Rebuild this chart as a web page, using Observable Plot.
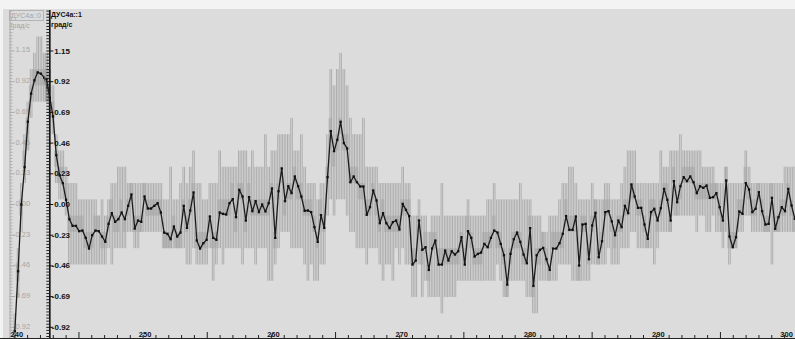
<!DOCTYPE html>
<html>
<head>
<meta charset="utf-8">
<script src="https://cdn.jsdelivr.net/npm/d3@7"></script>
<script src="https://cdn.jsdelivr.net/npm/@observablehq/plot@0.6"></script>
<style>
  html, body { margin: 0; padding: 0; background: #f3f3f3; }
  #wrap { position: relative; width: 795px; height: 339px; overflow: hidden; font-family: "Liberation Sans", Arial, sans-serif; }
  #panel { position: absolute; left: 3px; top: 9px; right: 0; bottom: 0; background: #dcdcdc; }
  #wrap svg { position: absolute; left: 0; top: 0; }
  .hdr { position: absolute; font-size: 7px; line-height: 8px; white-space: nowrap; }
  .ch0 { color: #a4a4a4; }
  .ch1 { color: #111; font-weight: bold; }
  .box0 { left: 9px; top: 10px; width: 35px; height: 11px; border: 1px solid #b4b4b4; padding-left: 1px; box-sizing: border-box; line-height: 9px; }
</style>
</head>
<body>
<div id="wrap">
  <div id="panel"></div>
  <div class="hdr ch0 box0">ДУС4а::0</div>
  <div class="hdr ch0" style="left:10px; top:22px;">град/с</div>
  <div class="hdr ch1" style="left:51px; top:11px;">ДУС4а::1</div>
  <div class="hdr ch1" style="left:51px; top:21px;">град/с</div>
</div>
<script>
// Quantised angular-rate sensor: value = LEVEL0 + LSB * count
const LSB = 0.122;
const LEVEL0 = 0.035;
const level = k => LEVEL0 + LSB * k;

// Sampling
const dt = 0.2547;          // s between averaged samples
const ch0Start = 240.0;
const ch1Start = 242.47;

// Channel ДУС4а::0 — mean, lower count of the inter-level box, whisker min / max counts
const ch0Mean   = [-0.95, -0.50, 0.00, 0.28, 0.62, 0.83, 0.93, 0.99, 0.98, 0.95, 0.87];
const ch0BoxLow = [-9, -5, -1, 2, 4, 6, 7, 7, 7, 7, 6];
const ch0Min    = [-9, -6, -2, 1, 3, 5, 6, 6, 6, 6, 6];
const ch0Max    = [-7, -3, 1, 4, 6, 8, 9, 10, 10, 9, 8];

// Channel ДУС4а::1
const ch1Mean = [
  0.94, 0.80, 0.66, 0.37, 0.22, 0.16, 0.035, -0.11, -0.16, -0.16,
  -0.20, -0.195, -0.25, -0.33, -0.23, -0.195, -0.20, -0.24, -0.28, -0.145,
  -0.065, -0.13, -0.11, -0.06, -0.11, -0.01, 0.075, -0.18, -0.12, -0.13,
  0.06, -0.03, -0.03, -0.01, 0.01, -0.06, -0.21, -0.22, -0.26, -0.165,
  -0.24, -0.21, -0.01, -0.175, -0.045, 0.09, -0.27, -0.33, -0.29, -0.265,
  -0.09, -0.25, -0.265, -0.06, -0.07, -0.075, 0.01, 0.04, -0.095,
  0.11, 0.06, -0.12, 0.055, -0.05, 0.025, -0.057, 0.0, -0.052, 0.01,
  0.12, -0.25, 0.10, 0.27, 0.025, 0.137, 0.085, 0.21, 0.137, 0.06,
  -0.047, -0.045, -0.057, -0.17, -0.28, -0.08, -0.175, 0.205, 0.55, 0.40,
  0.485, 0.62, 0.46, 0.42, 0.167, 0.21, 0.167, 0.135, 0.135, -0.077,
  -0.02, 0.105, 0.03, -0.14, -0.065, -0.14, -0.177, -0.132, -0.12, -0.187,
  0.005, -0.04, -0.087, -0.45, -0.42, -0.12,
  -0.34, -0.32, -0.49, -0.33, -0.27, -0.45, -0.45, -0.345, -0.42, -0.35,
  -0.375, -0.35, -0.245, -0.45, -0.20, -0.25, -0.39, -0.37, -0.36, -0.295,
  -0.32, -0.25, -0.195, -0.21, -0.295, -0.38, -0.60, -0.37, -0.26, -0.21,
  -0.28, -0.375, -0.44, -0.177, -0.61, -0.38, -0.34, -0.325, -0.41, -0.49,
  -0.33, -0.33, -0.29, -0.22, -0.087, -0.19, -0.19, -0.09, -0.457, -0.15,
  -0.145, -0.41, -0.157, -0.062, -0.395, -0.275, -0.057,
  -0.05, -0.127, -0.23, -0.12, -0.17, -0.01, -0.065, 0.15, 0.06, -0.025,
  -0.025, -0.15, -0.257, -0.057, -0.032, -0.12, -0.027, 0.117, 0.035, -0.12,
  0.175, 0.017, 0.137, 0.205, 0.175, 0.21, 0.167, 0.085, 0.137, 0.125,
  0.142, 0.05, 0.055, 0.085, -0.02, -0.12, 0.18, -0.24, -0.32, -0.245,
  -0.052, -0.07, 0.16, 0.112, -0.057, -0.032, 0.092, -0.05, -0.15, -0.145,
  0.05, -0.182, -0.095, -0.02, -0.05, 0.117, -0.0075, -0.107
];
const ch1BoxLow = [
  7, 6, 5, 2, 1, 1, 0, -2, -2, -2,
  -2, -2, -3, -3, -3, -2, -2, -3, -3, -2,
  -1, -2, -2, -1, -2, -1, 0, -2, -2, -2,
  0, -1, -1, -1, -1, -1, -3, -3, -3, -2,
  -3, -3, -1, -2, -1, 0, -3, -3, -3, -3,
  -2, -3, -3, -1, -1, -1, -1, 0, -2,
  0, 0, -2, 0, -1, -1, -1, -1, -1, -1,
  0, -3, 0, 1, -1, 0, 0, 1, 0, 0,
  -1, -1, -1, -2, -3, -1, -2, 1, 4, 2,
  3, 4, 3, 3, 1, 1, 1, 0, 0, -1,
  -1, 0, -1, -2, -1, -2, -2, -2, -2, -2,
  -1, -1, -1, -4, -4, -2,
  -4, -3, -5, -3, -3, -4, -4, -4, -4, -4,
  -4, -4, -3, -4, -2, -3, -4, -4, -4, -3,
  -3, -3, -2, -3, -3, -4, -6, -4, -3, -3,
  -3, -4, -4, -2, -6, -4, -4, -3, -4, -5,
  -3, -3, -3, -3, -1, -2, -2, -2, -5, -2,
  -2, -4, -2, -1, -4, -3, -1,
  -1, -2, -3, -2, -2, -1, -1, 0, 0, -1,
  -1, -2, -3, -1, -1, -2, -1, 0, 0, -2,
  1, -1, 0, 1, 1, 1, 1, 0, 0, 0,
  0, 0, 0, 0, -1, -2, 1, -3, -3, -3,
  -1, -1, 1, 0, -1, -1, 0, -1, -2, -2,
  0, -2, -2, -1, -1, 0, -1, -2
];
const ch1Min = [
  6, 5, 4, 1, 0, 0, -1, -4, -4, -4,
  -4, -4, -4, -4, -4, -4, -4, -4, -4, -3,
  -4, -3, -3, -3, -3, -2, -2, -3, -3, -2,
  -2, -2, -2, -2, -2, -2, -3, -3, -3, -3,
  -3, -3, -3, -4, -4, -3, -4, -4, -4, -4,
  -3, -5, -4, -3, -4, -3, -3, -3, -3,
  -3, -4, -3, -3, -3, -4, -3, -3, -3, -5,
  -5, -4, -3, -2, -2, -2, -3, -3, -3, -3,
  -4, -5, -4, -5, -5, -4, -4, -1, 0, -1,
  0, 0, 0, -1, -2, -2, -3, -3, -3, -4,
  -3, -3, -3, -4, -5, -4, -4, -5, -3, -4,
  -3, -4, -4, -6, -6, -4,
  -6, -5, -6, -6, -6, -6, -7, -6, -6, -6,
  -6, -5, -5, -5, -5, -5, -5, -5, -5, -5,
  -5, -5, -5, -4, -5, -6, -6, -5, -5, -5,
  -5, -5, -6, -6, -7, -7, -5, -5, -5, -5,
  -5, -5, -4, -4, -4, -4, -5, -5, -5, -5,
  -5, -5, -4, -4, -4, -4, -4,
  -3, -4, -4, -4, -3, -3, -3, -2, -2, -3,
  -3, -3, -3, -3, -4, -3, -2, -2, -2, -2,
  -1, -1, -1, -1, -1, -1, -1, -2, -1, -1,
  -2, -2, -1, -2, -2, -3, -2, -4, -3, -3,
  -2, -2, -1, -1, -2, -2, -2, -2, -2, -2,
  -4, -2, -2, -2, -2, -2, -2, -2
];
const ch1Max = [
  9, 8, 7, 4, 3, 3, 2, 1, 1, 1,
  0, 0, 0, 0, 0, 0, -1, 0, -1, 0,
  1, 1, 2, 2, 2, 1, 1, 1, 1, 1,
  1, 1, 1, 1, 1, 1, 0, 0, 2, 0,
  0, 1, 2, 1, 2, 3, 1, 1, 0, 0,
  1, 1, 1, 3, 2, 2, 2, 2, 2,
  3, 3, 3, 2, 3, 2, 2, 2, 4, 2,
  3, 3, 4, 4, 4, 4, 5, 3, 3, 4,
  2, 1, 1, 1, 0, 1, 1, 4, 8, 7,
  8, 9, 8, 7, 5, 4, 4, 4, 5, 2,
  2, 2, 2, 1, 1, 1, 1, 1, 1, 1,
  2, 1, 1, -1, -1, 0,
  -1, -1, -2, -1, -1, -1, 1, -1, -1, -1,
  -1, -1, -1, -1, 0, -1, -1, -1, -1, -1,
  0, 0, 1, 0, 0, 0, 0, 0, 0, 0,
  1, 0, 0, 0, -1, -1, -1, -2, -2, -1,
  -1, -1, 0, 1, 1, 2, 2, 1, 0, 0,
  0, 0, 1, 0, 0, 0, 1,
  1, 0, 0, 0, 1, 2, 3, 3, 3, 1,
  1, 1, 1, 1, 1, 1, 3, 2, 2, 3,
  3, 3, 4, 3, 3, 3, 3, 3, 3, 2,
  2, 2, 2, 1, 1, 1, 2, 1, 1, 1,
  1, 1, 3, 2, 1, 1, 1, 1, 1, 1,
  1, 1, 1, 1, 2, 2, 2, 2
];

// Axes
const yTicks = [-0.92, -0.69, -0.46, -0.23, 0.00, 0.23, 0.46, 0.69, 0.92, 1.15];
const yTickLabels = ["-0.92", "-0.69", "-0.46", "-0.23", "0.00", "0.23", "0.46", "0.69", "0.92", "1.15"];
const yMinorStep = 0.023;
const xTicks = [240, 250, 260, 270, 280, 290, 300];
const xTickLabels = ["240", "250", "260", "270", "280", "290", "300"];
const ch0AxisAt = 239.63;   // time position of each channel's value axis
const ch1AxisAt = 242.73;
const baseline = -1.004;    // bottom edge of the time axis

function samples(start, mean, boxLow, min, max) {
  return mean.map((v, i) => ({
    t: start + i * dt,
    v,
    b0: level(boxLow[i]),
    b1: level(boxLow[i] + 1),
    w0: level(min[i]),
    w1: level(max[i])
  }));
}
const ch0 = samples(ch0Start, ch0Mean, ch0BoxLow, ch0Min, ch0Max);
const ch1 = samples(ch1Start, ch1Mean, ch1BoxLow, ch1Min, ch1Max);

const yMinor = d3.range(-44, 64).map(i => +(i * yMinorStep).toFixed(3))
  .filter(v => !yTicks.some(t => Math.abs(t - v) < 1e-6));
const xMinor = d3.range(240, 301).filter(v => v % 5 !== 0 || v % 10 === 0);
const xMid = d3.range(245, 300, 10);

function channelMarks(data) {
  return [
    Plot.rect(data, {
      x1: d => d.t - dt * 0.55, x2: d => d.t + dt * 0.55,
      y1: "b0", y2: "b1",
      fill: "#9c9c9c", fillOpacity: 0.45
    }),
    Plot.ruleX(data, {x: "t", y1: "w0", y2: "w1", stroke: "#a2a2a2", strokeWidth: 0.8, dx: -0.8}),
    Plot.ruleX(data, {x: "t", y1: "w0", y2: "w1", stroke: "#a2a2a2", strokeWidth: 0.8, dx: 0.8}),
    Plot.line(data, {x: "t", y: "v", stroke: "#1c1c1c", strokeWidth: 1.3}),
    Plot.dot(data, {x: "t", y: "v", symbol: "square", r: 1.3, fill: "#111", stroke: null})
  ];
}

const neg = yTicks.map((v, i) => ({v, label: yTickLabels[i]})).filter(d => d.v < 0);
const pos = yTicks.map((v, i) => ({v, label: yTickLabels[i]})).filter(d => d.v >= 0);

const chart = Plot.plot({
  width: 795,
  height: 339,
  marginTop: 10,
  marginBottom: 1,
  marginLeft: 0,
  marginRight: 0,
  style: {background: "transparent", fontFamily: "'Liberation Sans', Arial, sans-serif"},
  x: {domain: [240, 300], range: [14.3, 784.1], axis: null},
  y: {domain: [-0.92, 1.15], range: [326.8, 50.5], axis: null},
  marks: [
    // channel 0 value axis (inactive, drawn faded)
    Plot.ruleX([ch0AxisAt], {stroke: "#a9a9a9", strokeWidth: 1}),
    Plot.ruleY(yMinor, {y: d => d, x1: ch0AxisAt, x2: ch0AxisAt, insetRight: -3, stroke: "#b0b0b0"}),
    Plot.ruleY(yTicks, {y: d => d, x1: ch0AxisAt, x2: ch0AxisAt, insetRight: -5, stroke: "#a9a9a9"}),
    Plot.text(pos, {x: ch0AxisAt, y: "v", text: "label", textAnchor: "start", dx: 5.5, dy: -1, fontSize: 7.5, fill: "#a6a6a6"}),
    Plot.text(neg, {x: ch0AxisAt, y: "v", text: "label", textAnchor: "start", dx: 3, dy: -1, fontSize: 7.5, fill: "#a6a6a6"}),

    ...channelMarks(ch0),
    ...channelMarks(ch1),

    // channel 1 value axis
    Plot.ruleX([ch1AxisAt], {stroke: "#111", strokeWidth: 1.6}),
    Plot.ruleY(yMinor, {y: d => d, x1: ch1AxisAt, x2: ch1AxisAt, insetLeft: -3, stroke: "#222"}),
    Plot.ruleY(yTicks, {y: d => d, x1: ch1AxisAt, x2: ch1AxisAt, insetLeft: -3, insetRight: -4, stroke: "#111"}),
    Plot.text(pos, {x: ch1AxisAt, y: "v", text: "label", textAnchor: "start", dx: 4.5, fontSize: 8, fontWeight: "bold", fill: "#111"}),
    Plot.text(neg, {x: ch1AxisAt, y: "v", text: "label", textAnchor: "start", dx: 2, fontSize: 8, fontWeight: "bold", fill: "#111"}),

    // time axis
    Plot.ruleY([baseline], {stroke: "#222", strokeWidth: 1}),
    Plot.ruleX(xMinor, {x: d => d, insetTop: 325, stroke: "#222"}),
    Plot.ruleX(xMid, {x: d => d, insetTop: 322, stroke: "#222"}),
    Plot.text(xTicks, {x: d => d, text: (d, i) => xTickLabels[i], frameAnchor: "bottom", lineAnchor: "bottom", dx: 2, dy: -2, fontSize: 7.5, fontWeight: "bold", fill: "#111"})
  ]
});
document.getElementById("wrap").appendChild(chart);
</script>
</body>
</html>
